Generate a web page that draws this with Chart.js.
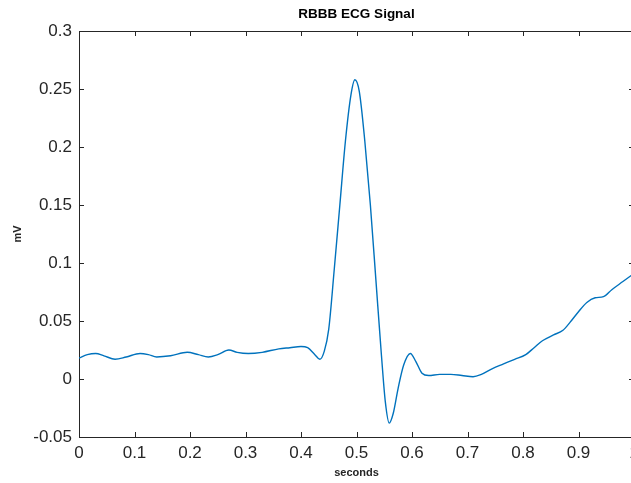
<!DOCTYPE html>
<html>
<head>
<meta charset="utf-8">
<script src="https://cdn.jsdelivr.net/npm/chart.js@4.4.1/dist/chart.umd.min.js"></script>
<style>
html,body{margin:0;padding:0;background:#fff;overflow:hidden;}
#wrap{width:631px;height:483px;position:relative;overflow:hidden;}
#c{position:absolute;left:0;top:0;}
</style>
</head>
<body>
<div id="wrap"><canvas id="c" width="634" height="483"></canvas></div>
<script>
const timeSeconds = [0.000,0.015,0.030,0.045,0.065,0.085,0.110,0.125,0.140,0.165,0.195,0.215,0.233,0.250,0.270,0.285,0.305,0.330,0.360,0.380,0.400,0.412,0.425,0.434,0.442,0.450,0.460,0.470,0.480,0.490,0.497,0.505,0.515,0.525,0.535,0.545,0.552,0.559,0.566,0.575,0.585,0.597,0.607,0.618,0.630,0.650,0.670,0.690,0.710,0.725,0.745,0.765,0.785,0.805,0.820,0.835,0.855,0.872,0.885,0.900,0.915,0.930,0.945,0.960,0.980,1.000];
const signalMv = [0.018,0.021,0.022,0.020,0.017,0.019,0.022,0.021,0.019,0.020,0.023,0.021,0.019,0.021,0.025,0.023,0.022,0.023,0.026,0.027,0.028,0.027,0.021,0.017,0.024,0.043,0.095,0.150,0.205,0.245,0.258,0.248,0.205,0.150,0.085,0.020,-0.020,-0.038,-0.030,-0.008,0.012,0.022,0.015,0.005,0.003,0.004,0.004,0.003,0.002,0.004,0.009,0.013,0.017,0.021,0.027,0.033,0.038,0.042,0.049,0.058,0.066,0.070,0.071,0.077,0.084,0.091];
const xTicks = [0,0.1,0.2,0.3,0.4,0.5,0.6,0.7,0.8,0.9,1];
const yTicks = [-0.05,0,0.05,0.1,0.15,0.2,0.25,0.3];
const chartTitle = 'RBBB ECG Signal';

const axisColor = '#262626';
const FONT = 'Liberation Sans, Arial, sans-serif';
const points = timeSeconds.map((t,i)=>({x:t,y:signalMv[i]}));

const boxTicks = {
  id:'boxTicks',
  afterDraw(chart){
    const {ctx, chartArea:a, scales:{x,y}} = chart;
    const L = 5;
    ctx.save();
    ctx.strokeStyle = axisColor;
    ctx.lineWidth = 1;
    ctx.beginPath();
    ctx.moveTo(a.left, a.top+0.5); ctx.lineTo(a.right, a.top+0.5);
    ctx.moveTo(a.right-0.5, a.top); ctx.lineTo(a.right-0.5, a.bottom);
    xTicks.forEach(v=>{
      const px = Math.round(x.getPixelForValue(v))+0.5;
      ctx.moveTo(px, a.bottom); ctx.lineTo(px, a.bottom-L);
      ctx.moveTo(px, a.top); ctx.lineTo(px, a.top+L);
    });
    yTicks.forEach(v=>{
      const py = Math.round(y.getPixelForValue(v))+0.5;
      ctx.moveTo(a.left, py); ctx.lineTo(a.left+L, py);
      ctx.moveTo(a.right, py); ctx.lineTo(a.right-L, py);
    });
    ctx.stroke();
    ctx.fillStyle = '#000';
    ctx.font = 'bold 13.5px ' + FONT;
    ctx.textAlign = 'center';
    ctx.textBaseline = 'alphabetic';
    ctx.fillText(chartTitle, (a.left+a.right)/2, 18);
    ctx.restore();
  }
};

new Chart(document.getElementById('c'), {
  type:'line',
  data:{datasets:[{
    data:points,
    borderColor:'#0072BD',
    borderWidth:1.4,
    pointRadius:0,
    fill:false,
    cubicInterpolationMode:'monotone'
  }]},
  options:{
    responsive:false,
    animation:false,
    events:[],
    layout:{padding:{left:0,right:0,top:31,bottom:0}},
    plugins:{
      legend:{display:false},
      tooltip:{enabled:false},
      title:{display:false}
    },
    scales:{
      x:{type:'linear',min:0,max:1,
        afterBuildTicks(s){s.ticks = xTicks.map(v=>({value:v}));},
        afterFit(s){s.height=46; s.paddingLeft=0; s.paddingRight=0;},
        grid:{display:true,drawOnChartArea:false,drawTicks:false},
        border:{display:true,color:axisColor,width:1},
        ticks:{color:axisColor,padding:6,maxRotation:0,autoSkip:false,
          font:{family:FONT,size:17},
          callback:v=>String(v)},
        title:{display:true,text:'seconds',color:'#262626',
          font:{family:FONT,size:11,weight:'bold'},
          padding:{top:2,bottom:3}}
      },
      y:{type:'linear',min:-0.05,max:0.3,
        afterBuildTicks(s){s.ticks = yTicks.map(v=>({value:v}));},
        afterFit(s){s.width=79; s.paddingTop=0; s.paddingBottom=0;},
        grid:{display:true,drawOnChartArea:false,drawTicks:false},
        border:{display:true,color:axisColor,width:1},
        ticks:{color:axisColor,padding:7,autoSkip:false,
          font:{family:FONT,size:17},
          callback:v=>String(Math.round(v*100)/100)},
        title:{display:true,text:'mV',color:'#262626',
          font:{family:FONT,size:11,weight:'bold'},
          padding:{top:11,bottom:0}}
      }
    }
  },
  plugins:[boxTicks]
});
</script>
</body>
</html>
